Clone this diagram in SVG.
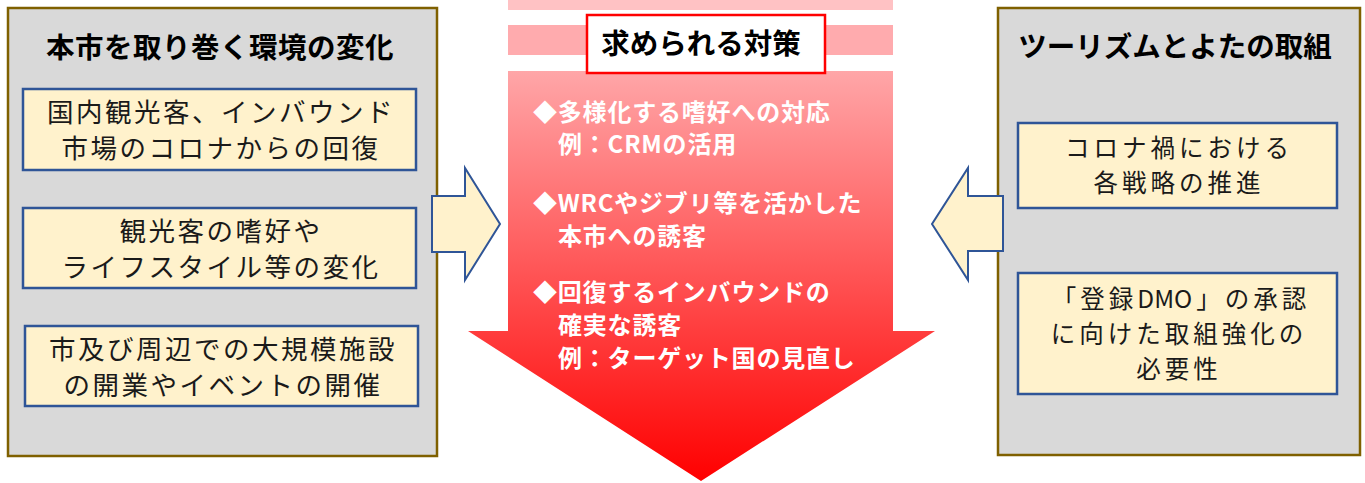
<svg xmlns="http://www.w3.org/2000/svg" width="1365" height="483" viewBox="0 0 1365 483">
<defs>
<linearGradient id="redg" x1="0" y1="71" x2="0" y2="481" gradientUnits="userSpaceOnUse">
<stop offset="0" stop-color="#ffa6a8"/>
<stop offset="1" stop-color="#ff0000"/>
</linearGradient>
<style>
.panel{fill:#d9d9d9;stroke:#7f6000;stroke-width:2.5}
.box{fill:#fff2cc;stroke:#2f5597;stroke-width:2.5}
.arr{fill:#fff2cc;stroke:#2f5597;stroke-width:2}
.t{font-family:"Noto Sans CJK JP","Noto Sans",sans-serif;fill:#1a1a1a}
.ttl{font-size:28.5px;font-weight:bold;text-anchor:middle;fill:#000}
.bx{font-size:26.5px;text-anchor:middle;letter-spacing:2.5px}
.rb{font-size:24.5px;letter-spacing:4px}
.w{font-size:24px;font-weight:bold;fill:#fff;letter-spacing:0.8px}
</style>
</defs>
<rect width="1365" height="483" fill="#fff"/>

<g id="center-arrow">
<rect x="508" y="0" width="385" height="10" fill="#ffc2c4"/>
<rect x="508" y="25" width="385" height="30" fill="#ffabae"/>
<path d="M508 71 H893 V331 H935 L701 481 L468 331 H508 Z" fill="url(#redg)"/>
</g>

<g id="left-panel">
<rect class="panel" x="8" y="8" width="429" height="448"/>
<text class="t ttl" x="220" y="58" letter-spacing="0.5">本市を取り巻く環境の変化</text>
</g>
<g id="left-box1">
<rect class="box" x="23" y="89" width="393" height="81"/>
<text class="t bx" x="221" y="122">国内観光客、インバウンド</text>
<text class="t bx" x="221" y="158">市場のコロナからの回復</text>
</g>
<g id="left-box2">
<rect class="box" x="23" y="208" width="393" height="80"/>
<text class="t bx" x="221" y="241">観光客の嗜好や</text>
<text class="t bx" x="221" y="277">ライフスタイル等の変化</text>
</g>
<g id="left-box3">
<rect class="box" x="25" y="326" width="393" height="80"/>
<text class="t bx" x="223" y="359">市及び周辺での大規模施設</text>
<text class="t bx" x="223" y="395">の開業やイベントの開催</text>
</g>

<g id="right-panel">
<rect class="panel" x="998" y="8" width="362" height="447"/>
<text class="t ttl" x="1175" y="57">ツーリズムとよたの取組</text>
</g>
<g id="right-box1">
<rect class="box" x="1018" y="123" width="319" height="85"/>
<text class="t bx rb" x="1179" y="157">コロナ禍における</text>
<text class="t bx rb" x="1179" y="192">各戦略の推進</text>
</g>
<g id="right-box2">
<rect class="box" x="1018" y="273" width="319" height="121"/>
<text class="t bx rb" x="1181" y="308">「登録<tspan letter-spacing="0">DM</tspan>O」の承認</text>
<text class="t bx rb" x="1179" y="343">に向けた取組強化の</text>
<text class="t bx rb" x="1179" y="378">必要性</text>
</g>

<g id="connectors">
<path class="arr" d="M432 196 H465 V168 L500 224 L465 280 V252 H432 Z"/>
<path class="arr" d="M1003 196 H968 V168 L932 224 L968 280 V251 H1003 Z"/>
</g>

<g id="measures-title">
<rect x="587" y="15" width="238" height="58" fill="#fff" stroke="#ff0000" stroke-width="2.5"/>
<text class="t ttl" x="701" y="54" font-size="29.5">求められる対策</text>
</g>

<g id="measures">
<text class="t w" x="533" y="121">◆多様化する嗜好への対応</text>
<text class="t w" x="558" y="153">例：CRMの活用</text>
<text class="t w" x="533" y="212">◆WRCやジブリ等を活かした</text>
<text class="t w" x="558" y="245">本市への誘客</text>
<text class="t w" x="533" y="301">◆回復するインバウンドの</text>
<text class="t w" x="558" y="334">確実な誘客</text>
<text class="t w" x="558" y="367">例：ターゲット国の見直し</text>
</g>
</svg>
